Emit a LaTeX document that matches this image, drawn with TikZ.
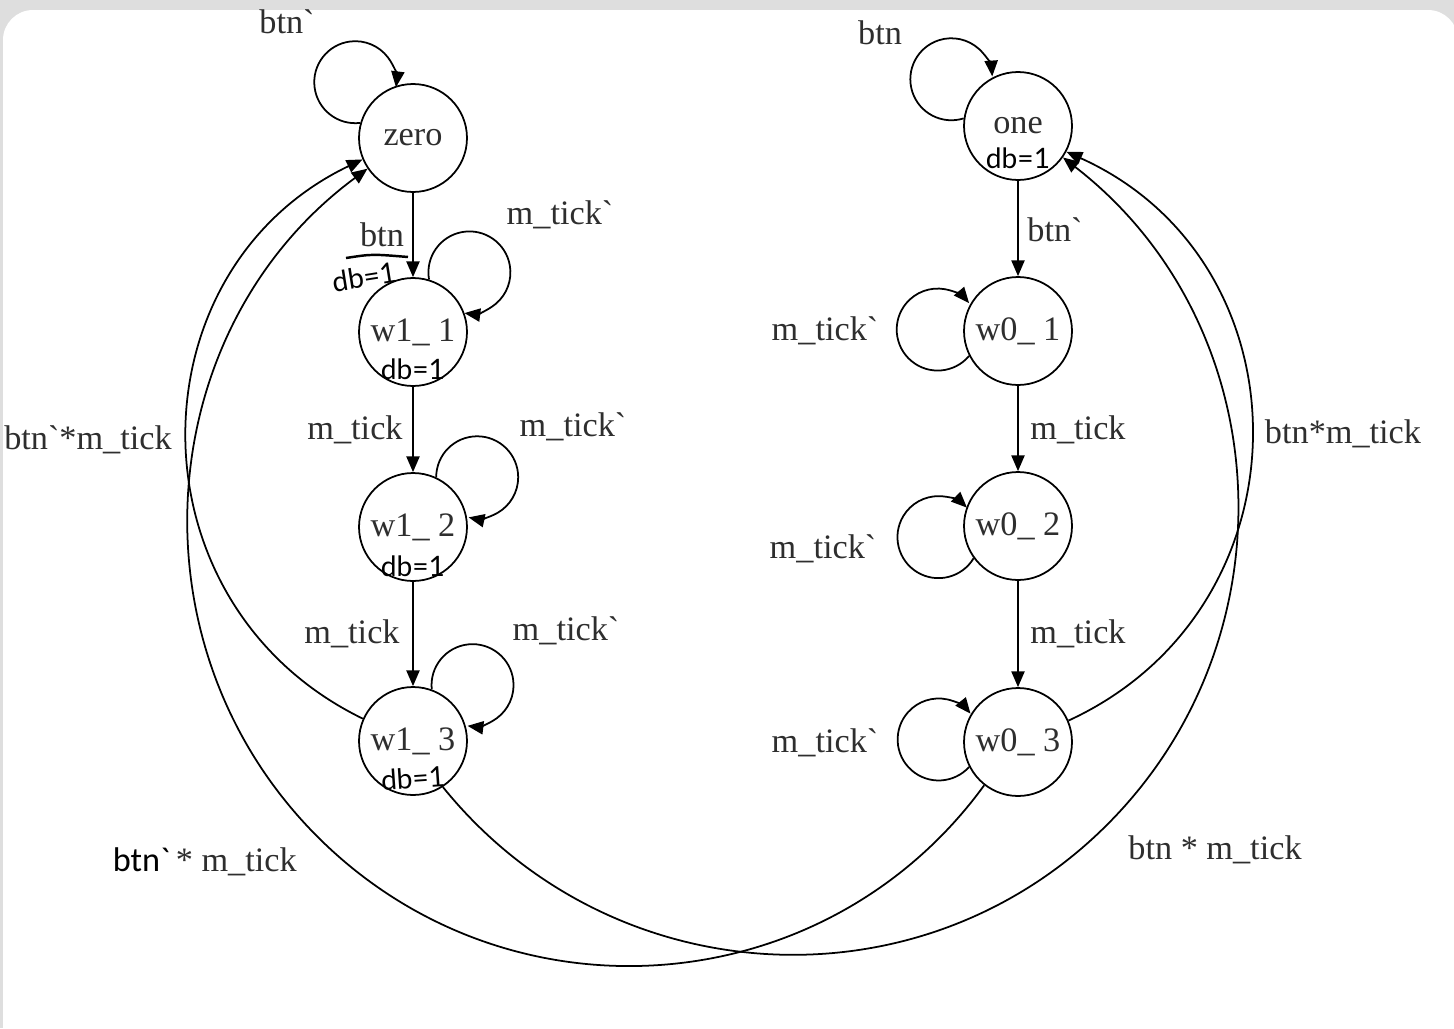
\documentclass[tikz,border=0pt]{standalone}
\usepackage{fontspec}
\newfontfamily\labfont{Liberation Serif}
\newfontfamily\handfont{Lato}
\newfontfamily\calfont{Carlito}
\usetikzlibrary{arrows.meta}
\definecolor{txt}{HTML}{2E2E2E}
\definecolor{bggray}{HTML}{DEDEDE}
\begin{document}
\begin{tikzpicture}[x=0.02cm,y=-0.02cm,
  line width=1pt,
  >={Triangle[length=9pt,width=7.5pt]},
  state/.style={circle,draw,minimum size=2.16cm,inner sep=0pt,text=txt,
    font=\labfont\fontsize{19.5}{22}\selectfont},
  lab/.style={inner sep=0pt,text=txt,font=\labfont\fontsize{19.5}{22}\selectfont},
  hand/.style={inner sep=0pt,text=black,font=\handfont\fontsize{16}{18}\selectfont},
  handline/.style={line width=1.4pt,black}]
\useasboundingbox (0,0) rectangle (1454,1028);
\fill[bggray] (0,0) rectangle (1454,1028);
\fill[white,rounded corners=0.6cm] (3,10) rectangle (1458,1060);

% states
\node[state] (zero) at (413,138) {zero};
\node[state] (w11) at (413,332) {w1\_ 1};
\node[state] (w12) at (413,527) {w1\_ 2};
\node[state] (w13) at (413,741) {w1\_ 3};
\node[state] (one) at (1018,126) {};
\node[state] (w01) at (1018,331) {w0\_ 1};
\node[state] (w02) at (1018,526) {w0\_ 2};
\node[state] (w03) at (1018,742) {w0\_ 3};
\node[lab] (onet) at (1018,126) {one};

% handwritten db=1
\node[hand] (db11) at (413,369) {db=1};
\node[hand] (db12) at (413,566) {db=1};
\node[hand,rotate=4] (db13) at (413,778) {db=1};
\node[hand] (dbone) at (1018,158) {db=1};

% straight edges
\draw[->] (zero) -- (w11);
\draw[->] (w11) -- (w12);
\draw[->] (w12) -- (w13);
\draw[->] (one) -- (w01);
\draw[->] (w01) -- (w02);
\draw[->] (w02) -- (w03);

% self loops
\draw[->] (zero.164) arc[start angle=83,end angle=367,radius=41];
\draw[->] (w11.73) arc[start angle=170,end angle=457,radius=41];
\draw[->] (w12.65) arc[start angle=180,end angle=462,radius=41];
\draw[->] (w13.70) arc[start angle=174,end angle=457,radius=41];
\draw[->] (one.172) arc[start angle=72.5,end angle=356,radius=41];
\draw[->] (w01.207) arc[start angle=40,end angle=320,radius=41];
\draw[->] (w02.216) arc[start angle=31,end angle=314,radius=41];
\draw[->] (w03.207) arc[start angle=42,end angle=321,radius=41];

% long arcs
\draw[->] (w13.156) .. controls (127,604) and (130,271) .. (zero.203);
\coordinate (bmid) at (317.6,836.8);
\draw[->] (w03.232) .. controls (825,1004) and (509,1028) .. (bmid)
  .. controls (126.5,645.7) and (150.9,328.7) .. (zero.214);
\draw[->] (w03.23) .. controls (1313,608) and (1312,262.5) .. (one.-28);
\coordinate (dmid) at (1109.3,822.5);
\draw[->] (w13.-57) .. controls (611.5,995.8) and (922.3,1012.2) .. (dmid)
  .. controls (1296.3,632.8) and (1276.2,322.6) .. (one.-35);

% labels
\node[lab] (l1) at (287,22) {btn`};
\node[lab] (l2) at (880,33) {btn};
\node[lab] (l3) at (382,235) {btn};
\draw[handline] (346,258) .. controls (372,254) .. (408,257);
\node[hand,rotate=9] (l3b) at (364,277) {db=1};
\node[lab] (l4) at (560,215) {m\_tick`};
\node[lab] (l5) at (355,430) {m\_tick};
\node[lab] (l6) at (573,427) {m\_tick`};
\node[lab] (l7) at (352,634) {m\_tick};
\node[lab] (l8) at (566,631) {m\_tick`};
\node[lab] (l9) at (88,440) {btn`*m\_tick};
\node[lab,anchor=west] (l10) at (112,862) {{\calfont\color{black}btn`}\,* m\_tick};
\node[lab] (l11) at (1055,230) {btn`};
\node[lab] (l12) at (825,331) {m\_tick`};
\node[lab] (l13) at (1078,430) {m\_tick};
\node[lab] (l14) at (823,549) {m\_tick`};
\node[lab] (l15) at (1078,634) {m\_tick};
\node[lab] (l16) at (825,743) {m\_tick`};
\node[lab] (l17) at (1343,434) {btn*m\_tick};
\node[lab] (l18) at (1215,850) {btn * m\_tick};
\end{tikzpicture}
\end{document}
